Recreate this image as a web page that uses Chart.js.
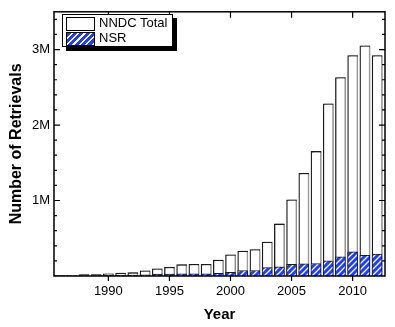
<!DOCTYPE html>
<html>
<head>
<meta charset="utf-8">
<script src="https://cdn.jsdelivr.net/npm/chart.js@4.4.1/dist/chart.umd.min.js"></script>
<style>
  html, body { margin: 0; padding: 0; background: #fff; }
  #wrap { position: relative; width: 395px; height: 327px; }
  #legend {
    position: absolute; left: 62px; top: 14px; width: 109px; height: 31px;
    border: 1px solid #000; background: #fff; box-shadow: 4px 4px 0 #000;
    font-family: "Liberation Sans", Arial, sans-serif; font-size: 13px; color: #000;
  }
  .item { position: absolute; left: 3px; height: 13px; }
  .swatch { position: absolute; left: 0; top: 0; width: 27px; height: 12px; border: 1px solid #000; }
  .label { position: absolute; left: 33px; top: -2px; white-space: nowrap; line-height: 16px; }
  .hatch {
    background-color: #1f3dff;
    background-image: repeating-linear-gradient(135deg, #1f3dff 0px, #1f3dff 3px, #fff 3px, #fff 4.5px);
  }
</style>
</head>
<body>
<div id="wrap">
  <canvas id="RetrievalsChart" width="395" height="327"></canvas>
  <div id="legend">
    <div class="item" style="top:2px"><div class="swatch"></div><div class="label">NNDC Total</div></div>
    <div class="item" style="top:17px"><div class="swatch hatch"></div><div class="label">NSR</div></div>
  </div>
</div>
<script>
// years on the x axis
const years = [1986, 1987, 1988, 1989, 1990, 1991, 1992, 1993, 1994, 1995, 1996, 1997, 1998, 1999,
    2000, 2001, 2002, 2003, 2004, 2005, 2006, 2007, 2008, 2009, 2010, 2011, 2012];
// retrievals, in thousands
const nndcTotal = [5, 10, 20, 20, 30, 40, 44, 70, 95, 116, 150, 155, 155, 210,
    280, 330, 350, 450, 690, 1010, 1360, 1650, 2280, 2630, 2920, 3050, 2920];
const nsr = [2, 3, 5, 6, 8, 10, 12, 15, 25, 25, 30, 30, 30, 35,
    50, 73, 73, 110, 120, 155, 160, 165, 200, 255, 320, 275, 290];
const xTicks = [1990, 1995, 2000, 2005, 2010];
const yTicks = [1000000, 2000000, 3000000];
const yTickLabels = ['1M', '2M', '3M'];

function toPoints(values) {
    let points = [];
    for (let i = 0; i < years.length; i++) {
        points.push({ x: years[i], y: values[i] * 1000 });
    }
    return points;
}

function makeHatch() {
    let tile = document.createElement("canvas");
    tile.width = 6;
    tile.height = 6;
    let c = tile.getContext("2d");
    c.fillStyle = "#1f3dff";
    c.fillRect(0, 0, 6, 6);
    c.strokeStyle = "#ffffff";
    c.lineWidth = 1.3;
    c.beginPath();
    c.moveTo(-1, 7); c.lineTo(7, -1);
    c.moveTo(-4, 4); c.lineTo(4, -4);
    c.moveTo(2, 10); c.lineTo(10, 2);
    c.stroke();
    return c.createPattern(tile, "repeat");
}

// grey drop shadow on the total bars
const barShadow = {
    id: "barShadow",
    beforeDatasetDraw(chart, args) {
        chart.ctx.save();
        if (args.index == 0) {
            chart.ctx.shadowColor = "#9a9a9a";
            chart.ctx.shadowOffsetX = 2;
            chart.ctx.shadowOffsetY = 0;
            chart.ctx.shadowBlur = 0;
        }
    },
    afterDatasetDraw(chart) {
        chart.ctx.restore();
    }
};

// frame with ticks on all four sides, minor y ticks every 0.2M
const frameTicks = {
    id: "frameTicks",
    afterDraw(chart) {
        const ctx = chart.ctx;
        const area = chart.chartArea;
        const xs = chart.scales.x;
        const ys = chart.scales.y;
        ctx.save();
        ctx.strokeStyle = "#000";
        ctx.lineWidth = 1.5;
        ctx.strokeRect(area.left, area.top, area.right - area.left, area.bottom - area.top);
        ctx.lineWidth = 1.2;
        ctx.beginPath();
        for (let i = 0; i < xTicks.length; i++) {
            let px = xs.getPixelForValue(xTicks[i]);
            ctx.moveTo(px, area.bottom);
            ctx.lineTo(px, area.bottom + 5);
            ctx.moveTo(px, area.top);
            ctx.lineTo(px, area.top + 6);
        }
        for (let k = 1; k <= 17; k++) {
            let py = ys.getPixelForValue(k * 200000);
            let len = k % 5 == 0 ? 6 : 3;
            ctx.moveTo(area.left, py);
            ctx.lineTo(area.left + len, py);
            ctx.moveTo(area.right, py);
            ctx.lineTo(area.right - len, py);
        }
        ctx.stroke();
        ctx.restore();
    }
};

const fontFamily = "'Liberation Sans', Arial, sans-serif";

const config = {
    type: 'bar',
    data: {
        datasets: [{
            label: 'NNDC Total',
            data: toPoints(nndcTotal),
            backgroundColor: '#ffffff',
            borderColor: '#1a1a1a',
            borderWidth: 1.3,
            barThickness: 10,
            grouped: false,
            order: 2
        }, {
            label: 'NSR',
            data: toPoints(nsr),
            backgroundColor: makeHatch(),
            borderColor: '#1a1a1a',
            borderWidth: 1,
            barThickness: 10,
            grouped: false,
            order: 1
        }]
    },
    options: {
        responsive: false,
        animation: false,
        events: [],
        layout: { padding: { left: 0, top: 4, right: 10, bottom: 0 } },
        plugins: {
            legend: { display: false },
            tooltip: { enabled: false }
        },
        scales: {
            x: {
                type: 'linear',
                min: 1985.55,
                max: 2012.65,
                offset: false,
                grid: { display: false, drawTicks: false, offset: false },
                border: { display: false },
                afterFit: function (scale) { scale.height = 51; },
                afterBuildTicks: function (scale) {
                    scale.ticks = xTicks.map(v => ({ value: v }));
                },
                ticks: {
                    padding: 8,
                    color: '#000',
                    font: { family: fontFamily, size: 13 },
                    callback: function (value) { return String(value); }
                },
                title: {
                    display: true,
                    text: 'Year',
                    color: '#000',
                    font: { family: fontFamily, size: 15, weight: 'bold' },
                    padding: { top: 0, bottom: 3 }
                }
            },
            y: {
                min: 0,
                max: 3500000,
                grid: { display: false, drawTicks: false },
                border: { display: false },
                afterFit: function (scale) { scale.width = 54; },
                afterBuildTicks: function (scale) {
                    scale.ticks = yTicks.map(v => ({ value: v }));
                },
                ticks: {
                    padding: 4,
                    autoSkip: false,
                    color: '#000',
                    font: { family: fontFamily, size: 13 },
                    callback: function (value) {
                        let i = yTicks.indexOf(value);
                        return i >= 0 ? yTickLabels[i] : '';
                    }
                },
                title: {
                    display: true,
                    text: 'Number of Retrievals',
                    color: '#000',
                    font: { family: fontFamily, size: 16, weight: 'bold' },
                    padding: { top: 7, bottom: 0 }
                }
            }
        }
    },
    plugins: [barShadow, frameTicks]
};

new Chart(document.getElementById("RetrievalsChart"), config);
</script>
</body>
</html>
